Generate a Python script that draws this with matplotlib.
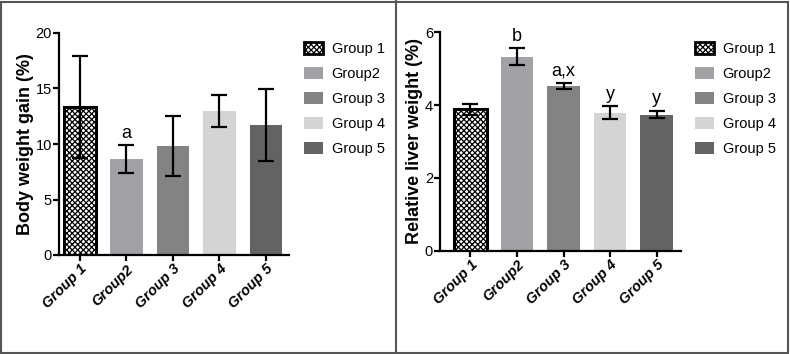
import matplotlib
matplotlib.use("Agg")
import matplotlib.pyplot as plt
from matplotlib.patches import Patch, Rectangle
from matplotlib.lines import Line2D

groups = ["Group 1", "Group2", "Group 3", "Group 4", "Group 5"]
colors = ["white", "#a2a2a6", "#838383", "#d4d4d4", "#636363"]

bw_gain = [13.3, 8.65, 9.8, 12.95, 11.7]
bw_err = [4.6, 1.25, 2.7, 1.45, 3.25]
bw_labels = ["", "a", "", "", ""]

liver = [3.88, 5.33, 4.52, 3.79, 3.74]
liver_err = [0.16, 0.23, 0.09, 0.18, 0.1]
liver_labels = ["", "b", "a,x", "y", "y"]

plt.rcParams["font.family"] = ["Liberation Sans", "DejaVu Sans"]
plt.rcParams["hatch.linewidth"] = 0.9

W, H = 790, 354
fig = plt.figure(figsize=(W / 100, H / 100), dpi=100)


def px_axes(x0, x1, ytop, ybot):
    return fig.add_axes([x0 / W, (H - ybot) / H, (x1 - x0) / W, (ybot - ytop) / H])


def draw_panel(ax, vals, errs, labels, ylabel, ymax, ystep, xlim, lab_off, leg_x):
    x = range(len(groups))
    bars = ax.bar(x, vals, width=0.7, color=colors, edgecolor="none", zorder=2)
    bars[0].set_hatch("xxxxxx")
    bars[0].set_edgecolor("black")
    bars[0].set_linewidth(2.2)
    ax.errorbar(x, vals, yerr=errs, fmt="none", ecolor="black", elinewidth=1.6,
                capsize=6, capthick=1.6, zorder=3)
    for i, lab in enumerate(labels):
        if lab:
            ax.text(i, vals[i] + errs[i] + lab_off, lab, ha="center", va="bottom",
                    fontsize=13)
    ax.set_ylim(0, ymax)
    ax.set_xlim(*xlim)
    ax.set_yticks(range(0, ymax + 1, ystep))
    ax.set_xticks(list(x))
    ax.set_xticklabels(groups, rotation=45, ha="right", rotation_mode="anchor",
                       fontweight="bold", fontstyle="italic", fontsize=10.5)
    for t in ax.get_yticklabels():
        t.set_fontsize(10.5)
    ax.spines["top"].set_visible(False)
    ax.spines["right"].set_visible(False)
    ax.spines["left"].set_linewidth(1.6)
    ax.spines["bottom"].set_linewidth(1.6)
    ax.tick_params(width=1.6, length=4, direction="out", pad=1)
    ax.set_ylabel(ylabel, fontsize=13, fontweight="bold", labelpad=1)

    handles = []
    for i, g in enumerate(groups):
        if i == 0:
            handles.append(Patch(facecolor="white", edgecolor="black", hatch="xxxxxx",
                                 linewidth=2, label=g))
        else:
            handles.append(Patch(facecolor=colors[i], edgecolor="none", label=g))
    fig.legend(handles=handles, loc="upper left", bbox_to_anchor=(leg_x / W, 1 - 42 / H),
               frameon=False, prop={"size": 10.5},
               handlelength=1.3, handleheight=0.85, labelspacing=0.75, handletextpad=0.6,
               borderaxespad=0, borderpad=0)


ax1 = px_axes(59, 289, 33, 255)
draw_panel(ax1, bw_gain, bw_err, bw_labels, "Body weight gain (%)", 20, 5,
           (-0.45, 4.5), 0.3, 304)

ax2 = px_axes(440, 681, 32.3, 250.7)
draw_panel(ax2, liver, liver_err, liver_labels, "Relative liver weight (%)", 6, 2,
           (-0.65, 4.52), 0.1, 695)

# panel frames
fig.add_artist(Rectangle((1 / W, 1 / H), (W - 3) / W, (H - 3) / H, transform=fig.transFigure,
                         fill=False, edgecolor="#555555", linewidth=1.5))
fig.add_artist(Line2D([396 / W, 396 / W], [0, 1], transform=fig.transFigure,
                      color="#555555", linewidth=1.5))

fig.savefig("out.png", dpi=100)
